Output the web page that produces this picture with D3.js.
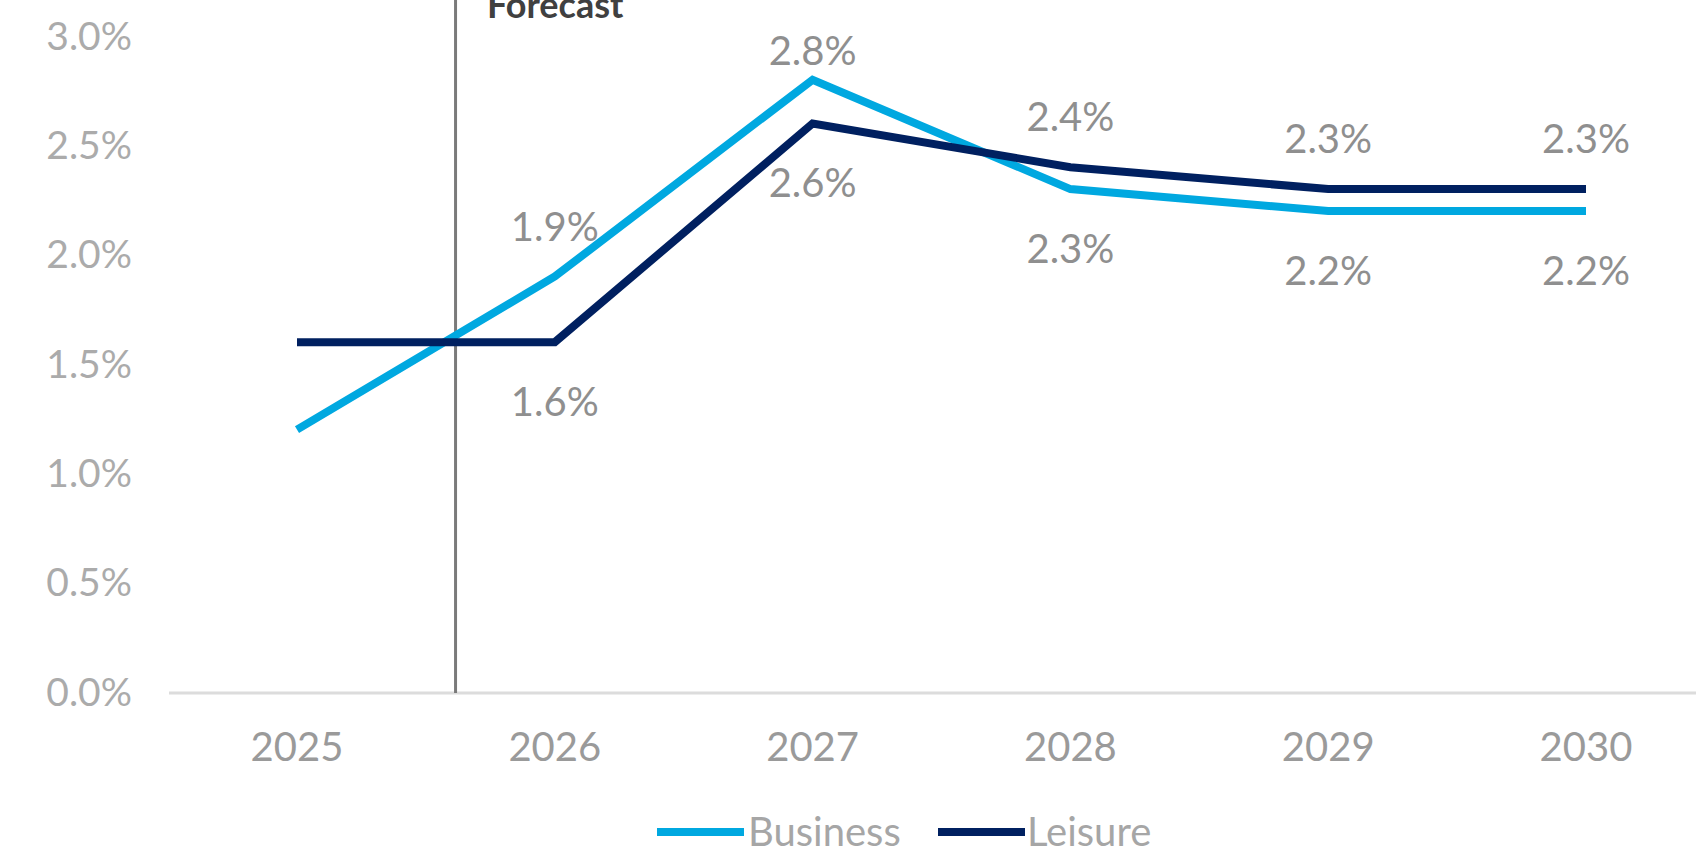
<!DOCTYPE html>
<html>
<head>
<meta charset="utf-8">
<script src="https://cdn.jsdelivr.net/npm/d3@7"></script>
<style>
  html, body { margin: 0; padding: 0; background: #ffffff; }
  svg { display: block; }
  text { font-family: Lato, "Open Sans", sans-serif; }
</style>
</head>
<body>
<svg id="chart" width="1696" height="854"></svg>
<script>
// Annual growth by travel segment, with forecast years to the right of the marker
const years = ["2025", "2026", "2027", "2028", "2029", "2030"];
const business = [1.2, 1.9, 2.8, 2.3, 2.2, 2.2];
const leisure  = [1.6, 1.6, 2.6, 2.4, 2.3, 2.3];
// Which side of each point its value label sits on (null = no label)
const businessLabelSide = [null, "above", "above", "below", "below", "below"];
const leisureLabelSide  = [null, "below", "below", "above", "above", "above"];
const yTicks = [0, 0.5, 1.0, 1.5, 2.0, 2.5, 3.0];
const forecastLabel = "Forecast";
// Forecast marker sits this fraction of the way from 2025 to 2026
const forecastOffset = 0.615;

const series = [
  { name: "Business", values: business, sides: businessLabelSide, color: "#00a8e0" },
  { name: "Leisure",  values: leisure,  sides: leisureLabelSide,  color: "#002060" }
];

const svg = d3.select("#chart");

const x = d3.scalePoint().domain(years).range([297, 1586]);
const y = d3.scaleLinear().domain([0, 3]).range([692, 36]);
const fmt = d => d3.format(".1f")(d) + "%";

// Y axis tick labels (no axis line, no gridlines)
svg.append("g").selectAll("text")
  .data(yTicks)
  .join("text")
  .attr("x", 132)
  .attr("y", d => y(d))
  .attr("dy", "0.35em")
  .attr("text-anchor", "end")
  .attr("font-size", 39)
  .attr("fill", "#ababab")
  .text(fmt);

// Baseline
svg.append("line")
  .attr("x1", 169).attr("x2", 1696)
  .attr("y1", 693).attr("y2", 693)
  .attr("stroke", "#dcdcdc")
  .attr("stroke-width", 3);

// X axis labels
svg.append("g").selectAll("text")
  .data(years)
  .join("text")
  .attr("x", d => x(d))
  .attr("y", 747)
  .attr("dy", "0.35em")
  .attr("text-anchor", "middle")
  .attr("font-size", 40)
  .attr("fill", "#9a9a9a")
  .text(d => d);

// Forecast marker
const fx = x(years[0]) + forecastOffset * x.step();
svg.append("line")
  .attr("x1", fx).attr("x2", fx)
  .attr("y1", 0).attr("y2", 693)
  .attr("stroke", "#7a7a7a")
  .attr("stroke-width", 3);
svg.append("text")
  .attr("x", 487)
  .attr("y", 18)
  .attr("font-size", 36)
  .attr("font-weight", "bold")
  .attr("fill", "#404040")
  .text(forecastLabel);

// Series lines
const line = d3.line()
  .x((d, i) => x(years[i]))
  .y(d => y(d));

svg.append("g").selectAll("path")
  .data(series)
  .join("path")
  .attr("d", s => line(s.values))
  .attr("fill", "none")
  .attr("stroke", s => s.color)
  .attr("stroke-width", 8)
  .attr("stroke-linejoin", "miter");

// Value labels
const labels = [];
series.forEach(s => {
  s.values.forEach((v, i) => {
    if (s.sides[i]) labels.push({ v, i, side: s.sides[i] });
  });
});
svg.append("g").selectAll("text")
  .data(labels)
  .join("text")
  .attr("x", d => x(years[d.i]))
  .attr("y", d => d.side === "above" ? Math.max(y(d.v) - 50, 51) : y(d.v) + 60)
  .attr("dy", "0.35em")
  .attr("text-anchor", "middle")
  .attr("font-size", 40)
  .attr("fill", "#8f8f8f")
  .text(d => fmt(d.v));

// Legend
const legendItems = [
  { s: series[0], x0: 657, x1: 744, tx: 748 },
  { s: series[1], x0: 938, x1: 1025, tx: 1027 }
];
const legendY = 832;
const lg = svg.append("g");
legendItems.forEach(it => {
  lg.append("line")
    .attr("x1", it.x0).attr("x2", it.x1)
    .attr("y1", legendY).attr("y2", legendY)
    .attr("stroke", it.s.color)
    .attr("stroke-width", 8);
  lg.append("text")
    .attr("x", it.tx)
    .attr("y", legendY)
    .attr("dy", "0.35em")
    .attr("font-size", 40)
    .attr("fill", "#a6a6a6")
    .text(it.s.name);
});
</script>
</body>
</html>
